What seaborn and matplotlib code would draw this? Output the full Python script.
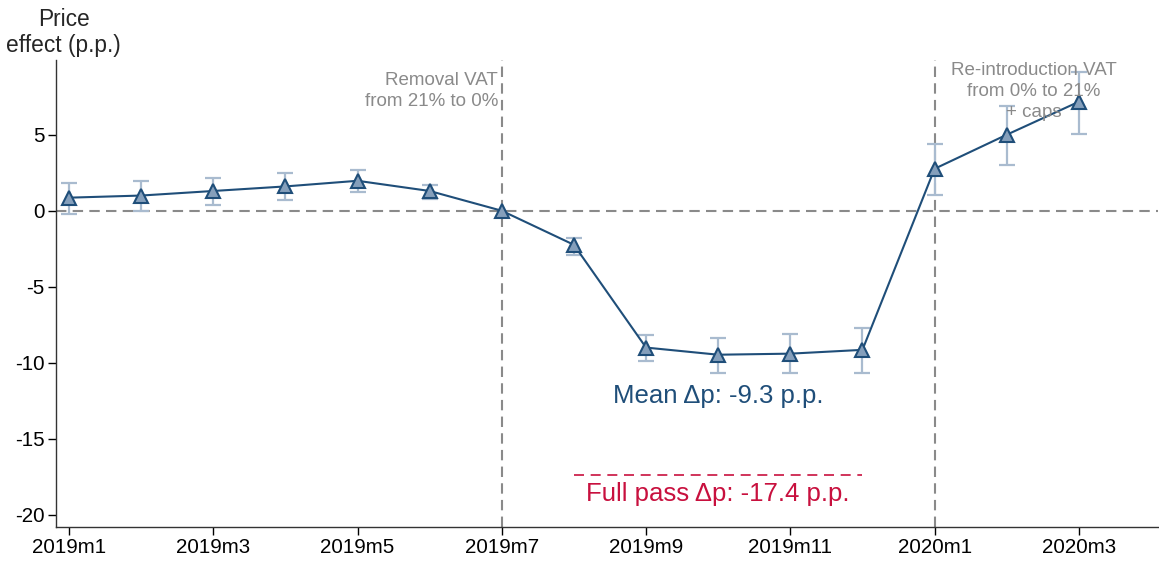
import pandas as pd
import matplotlib.pyplot as plt
import seaborn as sns

months = ["2019m1", "2019m2", "2019m3", "2019m4", "2019m5", "2019m6", "2019m7",
          "2019m8", "2019m9", "2019m10", "2019m11", "2019m12",
          "2020m1", "2020m2", "2020m3"]
effect = [0.86, 1.0, 1.3, 1.6, 1.97, 1.3, 0.0, -2.24, -9.0, -9.47, -9.4, -9.15, 2.76, 5.0, 7.17]
ci_low = [-0.2, 0.0, 0.4, 0.72, 1.25, 0.8, 0.0, -2.9, -9.9, -10.7, -10.7, -10.66, 1.05, 3.03, 5.07]
ci_high = [1.84, 1.97, 2.17, 2.5, 2.7, 1.7, 0.0, -1.8, -8.2, -8.4, -8.1, -7.7, 4.4, 6.9, 9.14]
tick_labels = ["2019m1", "2019m3", "2019m5", "2019m7", "2019m9", "2019m11", "2020m1", "2020m3"]
mean_dp = -9.3
full_pass = -17.4

df = pd.DataFrame({"t": range(len(months)), "month": months, "effect": effect,
                   "lo": ci_low, "hi": ci_high})

sns.set_style("ticks")
plt.rcParams['font.family'] = ['Liberation Sans', 'DejaVu Sans']

navy = "#1f4e79"
ci_col = "#a9bbcf"
red = "#c8103e"
grey = "#8a8a8a"

fig = plt.figure(figsize=(11.59, 5.63), dpi=100)
ax = fig.add_axes([0.0483, 0.064, 0.951, 0.829])

# reference lines
ax.axhline(0, color=grey, ls=(0, (5, 3)), lw=1.5, zorder=1)
ax.axvline(6, color=grey, ls=(0, (5, 3)), lw=1.5, zorder=1)
ax.axvline(12, color=grey, ls=(0, (5, 3)), lw=1.5, zorder=1)

# confidence intervals (skip reference month)
ci = df[df["hi"] != df["lo"]]
ax.errorbar(ci["t"], ci["effect"],
            yerr=[ci["effect"] - ci["lo"], ci["hi"] - ci["effect"]],
            fmt="none", ecolor=ci_col, elinewidth=1.6, capsize=5.5, capthick=1.6, zorder=2)

sns.lineplot(data=df, x="t", y="effect", ax=ax, color=navy, lw=1.5,
             marker="^", markersize=10, markerfacecolor="#859fbb",
             markeredgecolor=navy, markeredgewidth=1.5, zorder=3)

# full pass-through line
ax.hlines(full_pass, 7, 11, color=red, ls=(0, (6, 4)), lw=1.2)
ax.text(9, full_pass - 1.25, f"Full pass \u0394p: {full_pass} p.p.", color=red,
        fontsize=18.5, ha="center", va="center")
ax.text(9, mean_dp - 2.9, f"Mean \u0394p: {mean_dp} p.p.", color=navy,
        fontsize=18.5, ha="center", va="center")

ax.text(5.95, 9.15, "Removal VAT\nfrom 21% to 0%", color=grey, fontsize=13.5,
        ha="right", va="top", linespacing=1.3)
ax.text(13.38, 9.8, "Re-introduction VAT\nfrom 0% to 21%\n+ caps", color=grey,
        fontsize=13.5, ha="center", va="top", linespacing=1.3)

ax.set_xlim(-0.18, 15.1)
ax.set_ylim(-20.8, 9.9)
ax.set_xticks(range(0, len(months), 2))
ax.set_xticklabels(tick_labels)
ax.set_yticks([-20, -15, -10, -5, 0, 5])
ax.set_yticklabels(["-20", "-15", "-10", "-5", "0", "5"])
ax.tick_params(labelsize=14.8, length=6, width=1, colors="black", pad=2)
ax.set_xlabel("")
ax.set_ylabel("")
sns.despine(ax=ax)
for s in ["left", "bottom"]:
    ax.spines[s].set_linewidth(1)
    ax.spines[s].set_color("#333333")

fig.text(0.055, 0.985, "Price\neffect (p.p.)", fontsize=16.4, ha="center", va="top",
         linespacing=1.15)

fig.savefig("out.png", dpi=100)
